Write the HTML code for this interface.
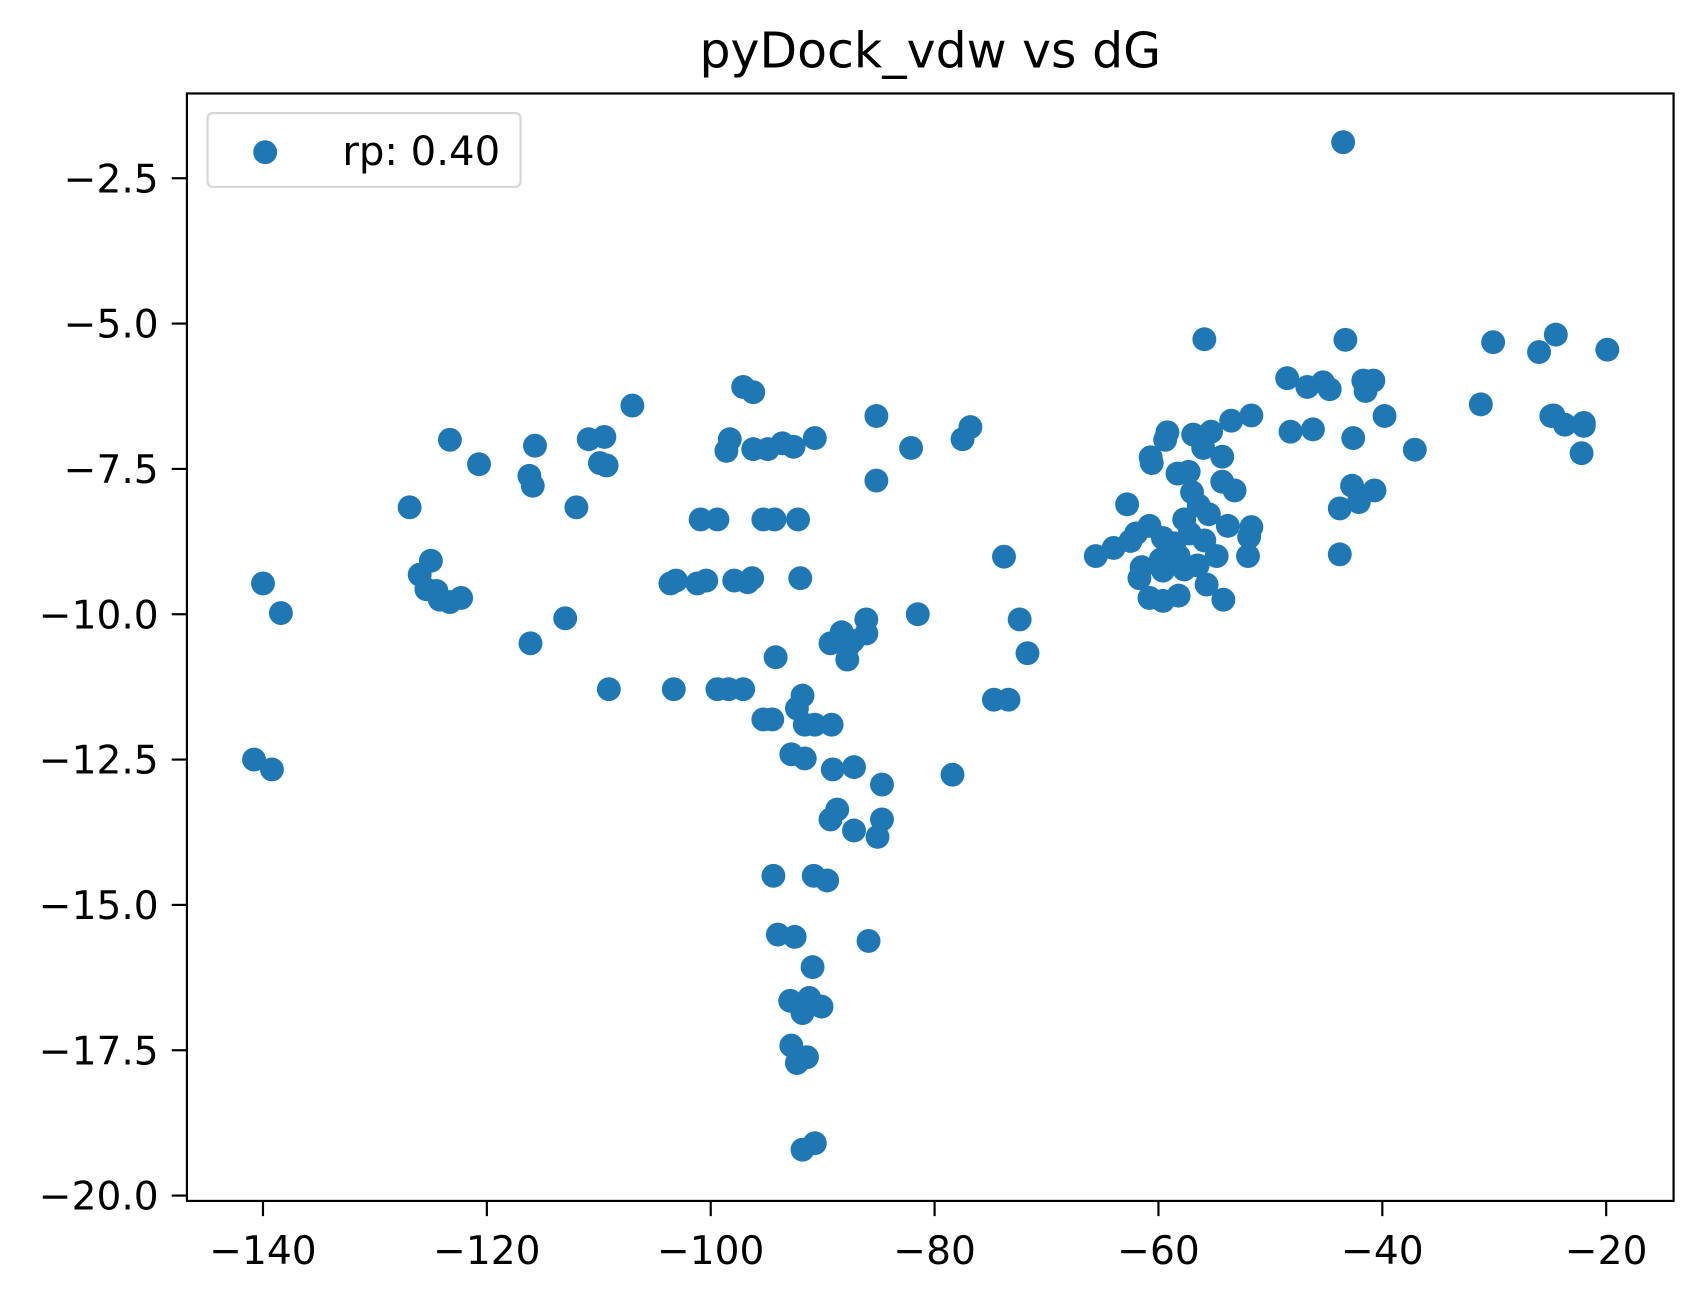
<!DOCTYPE html>
<html><head><meta charset="utf-8"><style>
html,body{margin:0;padding:0;background:#fff;}
svg{display:block;font-family:"DejaVu Sans","Liberation Sans",sans-serif;}
</style></head><body>
<svg id="chart" width="1704" height="1302" viewBox="0 0 1568 1198" preserveAspectRatio="none" xmlns="http://www.w3.org/2000/svg">
<rect width="1568" height="1198" fill="#fff"/>
<text x="856" y="62" font-size="45" text-anchor="middle">pyDock_vdw vs dG</text>
<g id="points"></g>
<rect x="172" y="86" width="1368" height="1019" fill="none" stroke="#000" stroke-width="2"/>
<g id="xticks"></g>
<g id="yticks"></g>
<g>
<rect x="191" y="104" width="288" height="68" rx="5" fill="#fff" fill-opacity="0.8" stroke="#d6d6d6" stroke-width="2"/>
<circle cx="244" cy="140" r="11" fill="#1f77b4"/>
<text x="315" y="152" font-size="37">rp: 0.40</text>
</g>
</svg>
<script>
const xs = [-43.5,-55.9,-43.3,-30.1,-26.0,-24.5,-19.9,-48.5,-46.7,-45.3,-44.7,-41.7,-40.8,-41.5,-31.2,-39.8,-24.9,-23.7,-22.0,-24.7,-22.0,-37.1,-22.2,-42.6,-48.2,-46.2,-51.7,-53.5,-55.3,-56.9,-59.2,-59.4,-56.0,-54.3,-60.6,-60.7,-58.3,-57.3,-54.3,-53.2,-57.0,-56.4,-62.8,-57.7,-55.5,-53.8,-51.7,-51.9,-60.8,-62.0,-64.0,-65.6,-62.5,-59.6,-58.6,-57.2,-55.9,-59.8,-58.2,-56.5,-54.8,-52.0,-61.5,-61.7,-59.6,-57.7,-55.7,-60.8,-59.6,-58.2,-54.2,-43.8,-42.7,-42.1,-40.7,-43.8,
-73.8,-72.4,-71.7,-74.7,-73.4,-78.4,-81.5,-82.1,-85.2,-85.2,-77.5,-76.8,-86.1,-86.1,-88.3,-89.3,-87.8,-87.8,-87.3,-90.7,-92.6,-93.6,-94.9,-96.2,-97.1,-96.2,-98.3,-98.6,-92.2,-94.3,-95.3,-99.4,-100.9,-92.0,-96.3,-96.7,-97.9,-100.4,-101.2,-103.1,-103.6,-94.2,-91.8,-92.3,-91.6,-90.7,-89.2,-95.3,-94.5,-97.1,-98.4,-99.4,-103.3,-109.1,-92.8,-91.6,-89.1,-87.2,-84.7,-88.7,-89.3,-87.2,-84.7,-85.1,-94.4,-90.8,-89.6,-94.0,-92.5,-85.9,-90.9,-92.9,-91.2,-90.1,-91.8,-92.8,-91.4,-92.3,-90.7,-91.8,
-107.0,-110.9,-109.5,-109.9,-109.3,-112.0,-113.0,-115.7,-116.2,-115.9,-116.1,-123.3,-120.7,-126.9,-126.0,-125.0,-125.4,-124.5,-124.2,-123.3,-122.3,-140.0,-138.4,-140.8,-139.2];
const ys = [-1.88,-5.27,-5.28,-5.32,-5.49,-5.19,-5.45,-5.94,-6.09,-6.01,-6.13,-5.98,-5.98,-6.16,-6.39,-6.59,-6.59,-6.74,-6.76,-6.58,-6.71,-7.17,-7.23,-6.97,-6.86,-6.82,-6.58,-6.67,-6.86,-6.91,-6.87,-7.0,-7.14,-7.29,-7.4,-7.3,-7.58,-7.55,-7.72,-7.87,-7.9,-8.13,-8.11,-8.37,-8.28,-8.48,-8.5,-8.67,-8.48,-8.61,-8.86,-9.0,-8.74,-8.69,-8.78,-8.61,-8.73,-9.06,-9.0,-9.16,-9.0,-9.0,-9.19,-9.38,-9.25,-9.23,-9.49,-9.72,-9.77,-9.68,-9.75,-8.18,-7.79,-8.07,-7.87,-8.97,
-9.01,-10.09,-10.67,-11.47,-11.47,-12.76,-10.0,-7.14,-6.59,-7.7,-6.99,-6.78,-10.09,-10.33,-10.31,-10.5,-10.58,-10.78,-10.46,-6.97,-7.12,-7.06,-7.16,-7.16,-6.09,-6.18,-6.99,-7.19,-8.37,-8.37,-8.37,-8.37,-8.37,-9.38,-9.38,-9.45,-9.42,-9.42,-9.47,-9.42,-9.47,-10.74,-11.4,-11.62,-11.9,-11.9,-11.9,-11.81,-11.81,-11.29,-11.29,-11.29,-11.29,-11.29,-12.41,-12.48,-12.67,-12.63,-12.93,-13.36,-13.53,-13.72,-13.53,-13.83,-14.5,-14.5,-14.58,-15.51,-15.55,-15.62,-16.07,-16.65,-16.6,-16.75,-16.86,-17.42,-17.62,-17.72,-19.1,-19.21,
-6.41,-6.99,-6.95,-7.4,-7.44,-8.16,-10.07,-7.1,-7.62,-7.79,-10.5,-7.0,-7.42,-8.16,-9.32,-9.08,-9.57,-9.6,-9.75,-9.79,-9.72,-9.47,-9.98,-12.5,-12.67];
const xTicks = [-140,-120,-100,-80,-60,-40,-20];
const yTicks = [-2.5,-5.0,-7.5,-10.0,-12.5,-15.0,-17.5,-20.0];
const xTickLabels = ["\u2212140","\u2212120","\u2212100","\u221280","\u221260","\u221240","\u221220"];
const yTickLabels = ["\u22122.5","\u22125.0","\u22127.5","\u221210.0","\u221212.5","\u221215.0","\u221217.5","\u221220.0"];

function xScale(v){ return 242 + (v + 140) * 10.3; }
function yScale(v){ return 164 - (v + 2.5) * 53.49; }
const NS = "http://www.w3.org/2000/svg";
const pg = document.getElementById('points');
for (let i = 0; i < xs.length; i++) {
  const c = document.createElementNS(NS, 'circle');
  c.setAttribute('cx', xScale(xs[i]));
  c.setAttribute('cy', yScale(ys[i]));
  c.setAttribute('r', 11);
  c.setAttribute('fill', '#1f77b4');
  
  
  pg.appendChild(c);
}
const xg = document.getElementById('xticks');
xTicks.forEach((t, i) => {
  const x = xScale(t);
  const l = document.createElementNS(NS, 'line');
  l.setAttribute('x1', x); l.setAttribute('x2', x);
  l.setAttribute('y1', 1105); l.setAttribute('y2', 1119);
  l.setAttribute('stroke', '#000'); l.setAttribute('stroke-width', 2);
  
  
  xg.appendChild(l);
  const tx = document.createElementNS(NS, 'text');
  tx.setAttribute('x', x); tx.setAttribute('y', 1163);
  tx.setAttribute('font-size', '36'); tx.setAttribute('text-anchor', 'middle');
  tx.textContent = xTickLabels[i];
  
  
  xg.appendChild(tx);
});
const yg = document.getElementById('yticks');
yTicks.forEach((t, i) => {
  const y = yScale(t);
  const l = document.createElementNS(NS, 'line');
  l.setAttribute('x1', 158); l.setAttribute('x2', 172);
  l.setAttribute('y1', y); l.setAttribute('y2', y);
  l.setAttribute('stroke', '#000'); l.setAttribute('stroke-width', 2);
  
  
  yg.appendChild(l);
  const tx = document.createElementNS(NS, 'text');
  tx.setAttribute('x', 146); tx.setAttribute('y', y + 13);
  tx.setAttribute('font-size', '36'); tx.setAttribute('text-anchor', 'end');
  tx.textContent = yTickLabels[i];
  
  
  yg.appendChild(tx);
});
</script>
</body></html>
